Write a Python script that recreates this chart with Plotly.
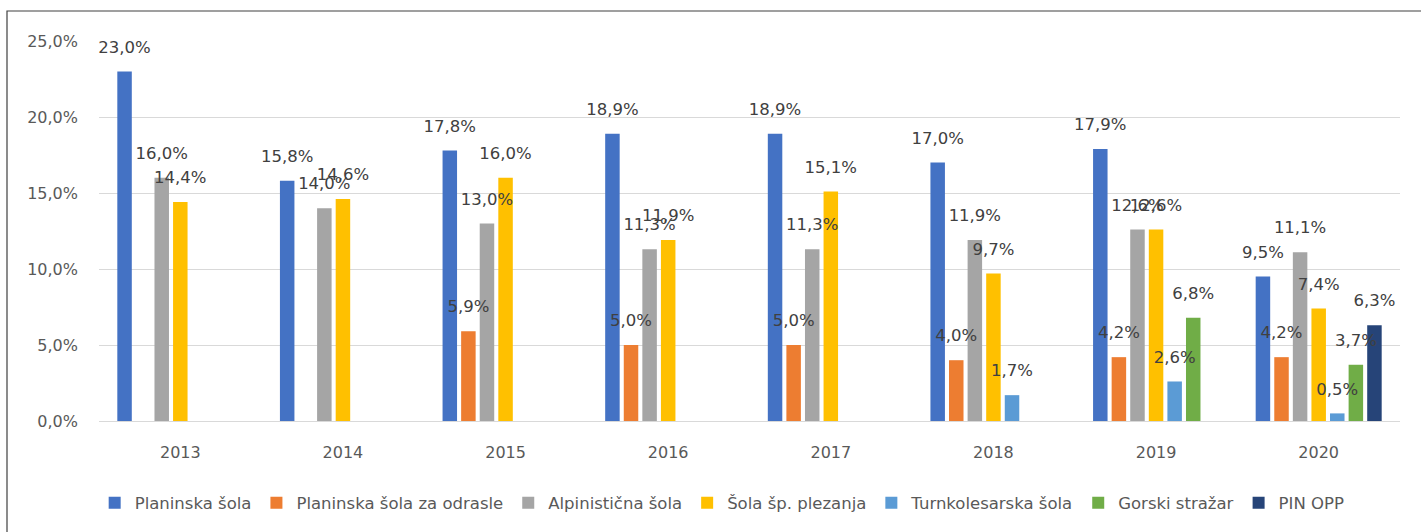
import plotly.graph_objects as go

years = ["2013", "2014", "2015", "2016", "2017", "2018", "2019", "2020"]

planinska = [23.0, 15.8, 17.8, 18.9, 18.9, 17.0, 17.9, 9.5]
planinska_odrasle = [None, None, 5.9, 5.0, 5.0, 4.0, 4.2, 4.2]
alpinisticna = [16.0, 14.0, 13.0, 11.3, 11.3, 11.9, 12.6, 11.1]
sola_plezanja = [14.4, 14.6, 16.0, 11.9, 15.1, 9.7, 12.6, 7.4]
turnkolesarska = [None, None, None, None, None, 1.7, 2.6, 0.5]
gorski_strazar = [None, None, None, None, None, None, 6.8, 3.7]
pin_opp = [None, None, None, None, None, None, None, 6.3]

series_names = ["Planinska šola", "Planinska šola za odrasle", "Alpinistična šola",
                "Šola šp. plezanja", "Turnkolesarska šola", "Gorski stražar", "PIN OPP"]
series_values = [planinska, planinska_odrasle, alpinisticna, sola_plezanja,
                 turnkolesarska, gorski_strazar, pin_opp]
colors = ["#4472C4", "#ED7D31", "#A5A5A5", "#FFC000", "#5B9BD5", "#70AD47", "#264478"]

y_ticks = [0, 5, 10, 15, 20, 25]
y_ticktext = ["0,0%", "5,0%", "10,0%", "15,0%", "20,0%", "25,0%"]

FONT = "DejaVu Sans, Liberation Sans, sans-serif"

def fmt(v):
    return None if v is None else f"{v:.1f}".replace(".", ",") + "%"

fig = go.Figure()
for i, (name, vals, col) in enumerate(zip(series_names, series_values, colors)):
    fig.add_trace(go.Bar(
        x=years, y=vals, name=name, marker=dict(color=col, line=dict(width=0)),
        offsetgroup=str(i), alignmentgroup="a", hoverinfo="skip",
    ))
for i, (name, vals, col) in enumerate(zip(series_names, series_values, colors)):
    fig.add_trace(go.Scatter(
        x=years, y=vals, mode="markers+text", text=[fmt(v) for v in vals],
        textposition="top center", offsetgroup=str(i), alignmentgroup="a",
        marker=dict(size=22, opacity=0), showlegend=False, hoverinfo="skip",
        textfont=dict(family=FONT, size=16.5, color="#404040"), cliponaxis=False,
    ))

W, H = 1421, 532
L, R, T, B = 99, 21, 41, 111
pw, ph = W - L - R, H - T - B

fig.update_layout(
    width=W, height=H,
    barmode="group", bargap=0.2, bargroupgap=0.22,
    scattermode="group", scattergap=0.2,
    plot_bgcolor="white", paper_bgcolor="white",
    margin=dict(l=L, r=R, t=T, b=B, autoexpand=False),
    font=dict(family=FONT, size=16, color="#595959"),
    xaxis=dict(type="category", showgrid=False, showline=False, ticks="",
               tickfont=dict(size=16, color="#595959"), ticklabelstandoff=20),
    yaxis=dict(range=[0, 25], tickvals=y_ticks, ticktext=y_ticktext,
               showgrid=True, gridcolor="#D9D9D9", gridwidth=1.3, zeroline=True,
               zerolinecolor="#D9D9D9", zerolinewidth=1.3, showline=False,
               tickfont=dict(size=16, color="#595959"), ticklabelstandoff=20),
    legend=dict(orientation="h", x=0.479, xanchor="center", y=(421 - 503) / ph,
                yanchor="middle", font=dict(size=16.5, color="#595959"),
                itemwidth=30, tracegroupgap=0, bgcolor="rgba(0,0,0,0)"),
    shapes=[dict(type="rect", xref="paper", yref="paper",
                 x0=(7 - L) / pw, x1=(1440 - L) / pw,
                 y0=(H - B - 560) / ph, y1=(H - B - 11) / ph,
                 line=dict(color="#404040", width=1.2), fillcolor="rgba(0,0,0,0)",
                 layer="below")],
)

fig.write_html("out.html", config={"displayModeBar": False},
               post_script="document.body.style.margin='0';")
